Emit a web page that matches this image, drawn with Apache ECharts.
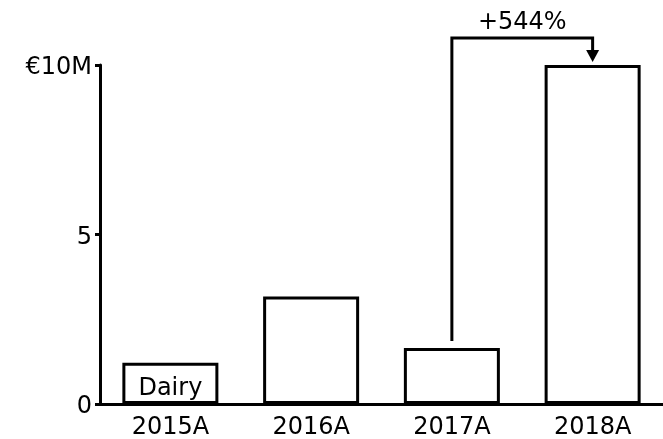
<!DOCTYPE html>
<html>
<head>
<meta charset="utf-8">
<script src="https://cdn.jsdelivr.net/npm/echarts@6/dist/echarts.min.js"></script>
<style>
  html, body { margin: 0; padding: 0; background: #fff; }
  #chart { width: 663px; height: 439px; }
</style>
</head>
<body>
<div id="chart"></div>
<script>
// Revenue by year (millions of euros)
const categories = ['2015A', '2016A', '2017A', '2018A'];
const revenue = [1.22, 3.17, 1.65, 10.0];
const yTicks = [0, 5, 10];
const yTickLabels = ['0', '5', '€10M'];
const segmentLabel = 'Dairy';
const growthLabel = '+544%';
const growthFrom = 2;   // index of 2017A
const growthTo = 3;     // index of 2018A

const FONT = 'DejaVu Sans';
const FONT_SIZE = 24;
const INK = '#000';

const chart = echarts.init(document.getElementById('chart'), null, { renderer: 'canvas' });

chart.setOption({
  animation: false,
  backgroundColor: '#fff',
  grid: {
    left: 100, right: 0, top: 65, bottom: 35,
    containLabel: false, outerBoundsMode: 'none'
  },
  xAxis: {
    type: 'category',
    data: categories,
    axisLine: { show: true, lineStyle: { color: INK, width: 3 } },
    axisTick: { show: false },
    axisLabel: { color: INK, fontFamily: FONT, fontSize: FONT_SIZE, margin: 12 }
  },
  yAxis: {
    type: 'value',
    min: yTicks[0],
    max: yTicks[yTicks.length - 1],
    interval: yTicks[1] - yTicks[0],
    axisLine: { show: true, lineStyle: { color: INK, width: 3 } },
    axisTick: { show: true, length: 5, lineStyle: { color: INK, width: 3 } },
    splitLine: { show: false },
    axisLabel: {
      color: INK, fontFamily: FONT, fontSize: FONT_SIZE, margin: 8,
      formatter: v => '{t|' + yTickLabels[yTicks.indexOf(v)] + '}',
      rich: { t: { fontFamily: FONT, fontSize: FONT_SIZE, color: INK, padding: [6, 0, 0, 0] } }
    }
  },
  series: [
    {
      type: 'bar',
      barWidth: 96,
      data: revenue.map((v, i) => ({
        value: v,
        label: i === 0 ? {
          show: true, position: 'insideBottom', distance: 3,
          formatter: segmentLabel, color: INK, fontFamily: FONT, fontSize: FONT_SIZE
        } : { show: false }
      })),
      itemStyle: { color: '#fff', borderColor: INK, borderWidth: 3 }
    },
    {
      // growth bracket from 2017A to 2018A with arrow head
      type: 'custom',
      clip: false,
      silent: true,
      z: 5,
      data: [[growthFrom, revenue[growthFrom], growthTo, revenue[growthTo]]],
      renderItem: (params, api) => {
        const fromTop = api.coord([api.value(0), api.value(1)]);
        const toTop = api.coord([api.value(2), api.value(3)]);
        const x1 = fromTop[0], x2 = toTop[0];
        const yStart = fromTop[1] - 7;
        const yBar = toTop[1];
        const yTop = yBar - 27;
        const tipY = yBar - 3;
        return {
          type: 'group',
          children: [
            {
              type: 'polyline',
              shape: { points: [[x1, yStart], [x1, yTop], [x2, yTop], [x2, tipY - 10]] },
              style: { stroke: INK, lineWidth: 3, fill: null }
            },
            {
              type: 'polygon',
              shape: { points: [[x2 - 6.5, tipY - 12], [x2 + 6.5, tipY - 12], [x2, tipY]] },
              style: { fill: INK }
            },
            {
              type: 'text',
              x: (x1 + x2) / 2,
              y: yTop - 3,
              style: {
                text: growthLabel, fill: INK, font: FONT_SIZE + 'px "DejaVu Sans"',
                align: 'center', verticalAlign: 'bottom'
              }
            }
          ]
        };
      }
    }
  ]
});
</script>
</body>
</html>
